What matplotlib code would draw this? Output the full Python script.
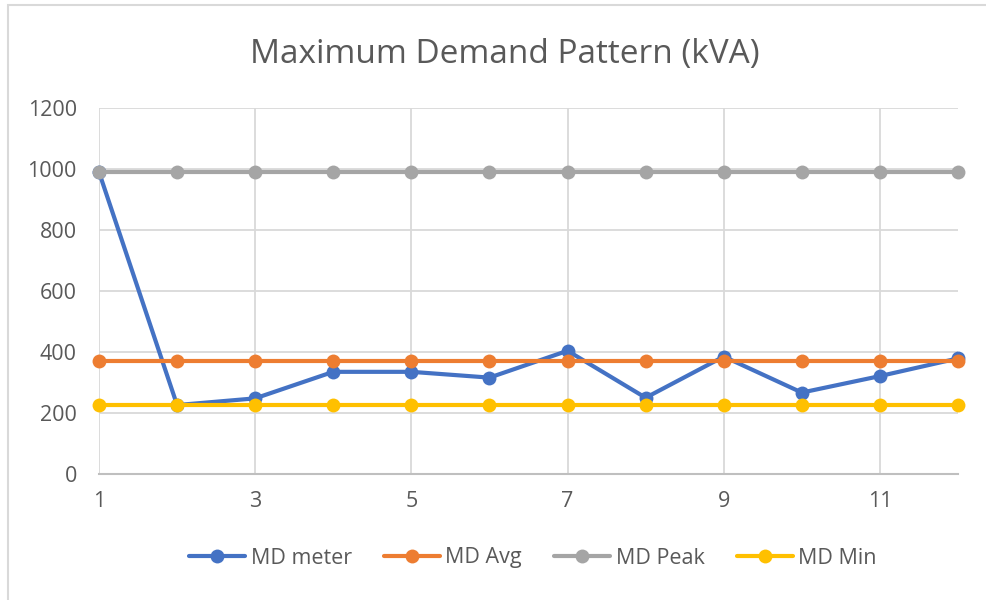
import matplotlib
matplotlib.use("Agg")
import matplotlib.pyplot as plt
from matplotlib.patches import Rectangle

plt.rcParams['font.family'] = ['Open Sans', 'DejaVu Sans']

months = [1, 2, 3, 4, 5, 6, 7, 8, 9, 10, 11, 12]
md_meter = [990, 226, 248, 335, 335, 316, 404, 250, 385, 267, 321, 379]
md_avg = [371] * 12
md_peak = [990] * 12
md_min = [226] * 12
series_names = ["MD meter", "MD Avg", "MD Peak", "MD Min"]
colors = ["#4472C4", "#ED7D31", "#A5A5A5", "#FFC000"]
title = "Maximum Demand Pattern (kVA)"
y_ticks = [0, 200, 400, 600, 800, 1000, 1200]
x_ticks = [1, 3, 5, 7, 9, 11]

W, H = 987, 600
fig = plt.figure(figsize=(W / 100, H / 100), dpi=100)
ax = fig.add_axes([99 / W, (H - 474) / H, (958 - 99) / W, (474 - 108) / H])

text_col = "#595959"
for vals, name, c in zip([md_meter, md_avg, md_peak, md_min], series_names, colors):
    ax.plot(months, vals, color=c, lw=3.0, marker='o', markersize=10,
            markeredgewidth=0, label=name, solid_capstyle='round', clip_on=False)

ax.set_xlim(1, 12)
ax.set_ylim(0, 1200)
ax.set_xticks(x_ticks)
ax.set_yticks(y_ticks)
ax.grid(True, color="#D9D9D9", lw=1.3)
ax.set_axisbelow(True)
for s in ['top', 'right', 'left']:
    ax.spines[s].set_visible(False)
ax.spines['bottom'].set_color("#BFBFBF")
ax.spines['bottom'].set_linewidth(1.5)
ax.tick_params(length=0, labelsize=15.5, labelcolor=text_col)
ax.tick_params(axis='y', pad=16)
ax.tick_params(axis='x', pad=12)

fig.text(505 / W, 1 - 63 / H, title, ha='center', va='baseline', fontsize=24, color=text_col)

fig.legend(loc='center', bbox_to_anchor=(533 / W, 1 - 558 / H), ncol=4, frameon=False,
           fontsize=15.5, labelcolor=text_col, handlelength=2.6, handletextpad=0.25,
           columnspacing=1.5)

fig.patches.append(Rectangle((8 / W, -0.01), 1.0, 1 - 5 / H + 0.01, transform=fig.transFigure,
                             fill=False, edgecolor="#D9D9D9", lw=1.5))

fig.savefig("out.png", dpi=100)
